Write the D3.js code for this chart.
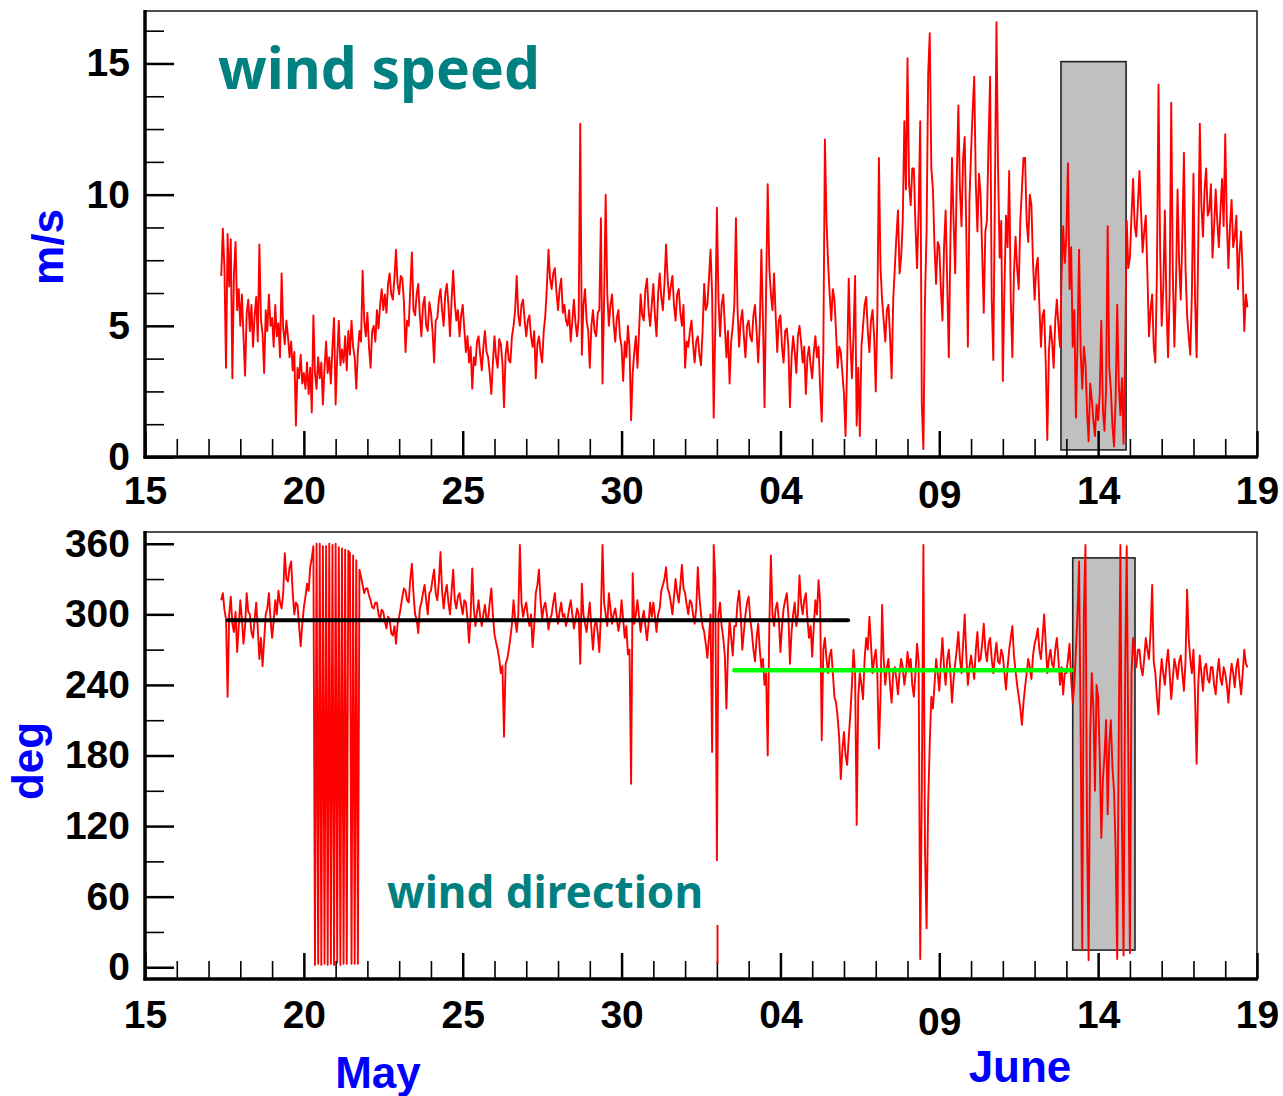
<!DOCTYPE html>
<html><head><meta charset="utf-8">
<script src="https://cdn.jsdelivr.net/npm/d3@7"></script>
<style>body{margin:0;background:#fff}svg{display:block}</style>
</head><body>
<svg id="chart" width="1283" height="1096"></svg>
<script>
// ---------- DATA (x = days after 15 May; 0.05-day samples, one row per day) ----------
const dayTickValues = [0,5,10,15,20,25,30,35];
const dayTickLabels = ["15","20","25","30","04","09","14","19"];
const speedTickValues = [0,5,10,15];
const dirTickValues = [0,60,120,180,240,300,360];
const monthLabels = ["May","June"];
const firstRowDay = 2;
const samplesPerDay = 20;

// wind speed (m/s)
const windSpeedRows = [
  [null,null,null,null,null,null,null,null,6.9,8.7,7.2,3.4,8.5,6.5,8.3,3.0,7.0,8.2,5.6,6.4],
  [5.0,6.2,4.6,3.1,5.5,6.0,4.8,5.8,4.2,5.4,6.1,4.4,8.1,5.2,4.7,3.2,5.6,4.8,6.2,5.0],
  [5.3,4.2,5.8,4.6,5.1,3.8,7.0,4.9,4.3,5.2,4.6,3.8,4.4,3.3,4.0,1.2,3.4,3.0,3.9,2.8],
  [3.2,2.6,3.6,2.4,3.4,1.7,5.4,3.2,2.6,3.8,3.0,3.6,2.0,3.4,4.4,3.2,3.8,2.8,4.2,5.3],
  [2.0,3.8,5.2,3.5,4.1,3.6,4.6,3.3,4.8,3.9,5.2,4.2,3.8,2.6,4.0,4.8,4.4,7.1,5.2,4.6],
  [5.5,4.2,3.4,4.8,5.0,4.4,5.6,4.9,5.8,6.4,5.6,6.2,5.5,6.6,7.0,6.2,6.0,6.8,7.9,6.6],
  [6.2,6.9,6.8,5.9,4.0,5.2,5.0,6.4,7.8,5.6,5.4,6.2,6.6,5.4,4.6,5.8,6.1,5.0,4.8,5.9],
  [5.5,4.8,3.6,5.2,5.3,6.0,6.4,5.6,5.0,6.2,6.6,5.8,4.6,6.0,7.1,5.9,5.2,5.6,4.6,5.4],
  [5.8,4.9,4.0,4.6,3.6,4.2,2.6,3.8,3.5,4.4,4.6,3.9,3.3,4.2,4.8,4.0,3.8,3.2,2.4,3.6],
  [4.6,3.8,3.4,4.5,4.3,3.6,1.9,3.9,4.4,3.7,3.6,4.6,5.0,5.6,6.9,5.4,5.0,5.8,6.0,5.2],
  [4.6,5.2,5.4,4.6,4.2,4.8,3.0,4.3,4.6,4.0,3.6,4.8,5.4,6.5,7.9,6.8,6.4,7.0,7.2,6.3],
  [5.6,6.4,6.8,5.5,5.8,5.2,5.0,5.6,4.4,5.2,6.0,5.1,4.6,5.3,12.7,3.9,5.8,6.4,5.2,4.8],
  [3.4,5.0,5.6,4.8,4.6,5.5,5.6,9.1,2.8,6.0,10.0,6.2,5.0,5.8,6.2,5.1,4.4,5.3,5.6,4.6],
  [4.2,2.9,4.4,3.8,5.0,4.2,1.4,3.2,4.0,4.6,3.4,4.8,6.2,5.4,5.2,6.4,6.8,5.6,5.0,5.8],
  [6.6,5.4,4.6,6.2,7.0,6.1,5.6,6.6,8.1,6.8,6.0,6.5,6.9,5.8,5.2,6.2,6.4,5.5,5.0,5.8],
  [3.4,4.4,4.2,4.8,5.2,4.3,3.6,4.4,4.6,3.9,3.5,4.8,6.6,5.6,5.8,6.8,7.9,6.2,1.5,5.0],
  [9.5,6.0,4.6,5.8,6.2,5.0,3.8,4.8,2.8,4.4,5.0,5.8,9.1,5.6,4.2,5.2,5.6,4.6,3.8,5.0],
  [5.2,4.6,4.4,5.4,5.8,4.8,3.6,5.0,7.9,5.2,1.9,6.4,10.4,7.2,6.2,5.6,7.0,5.4,4.0,5.2],
  [5.4,4.2,3.6,4.8,4.9,4.2,1.9,3.8,4.6,4.0,3.2,4.6,5.0,4.4,3.6,4.2,2.4,3.8,4.2,3.5],
  [3.0,4.0,4.6,3.8,4.2,2.6,1.35,4.0,12.1,9.0,7.4,6.2,5.2,6.4,6.0,4.8,3.4,4.2,4.0,3.2],
  [2.4,0.8,3.6,6.8,4.4,3.0,4.6,6.9,1.2,3.4,0.8,4.2,5.0,5.8,6.1,4.8,4.0,5.2,5.6,4.6],
  [2.5,5.4,11.4,7.2,6.0,5.2,4.4,5.6,5.8,4.6,3.0,6.0,7.2,8.4,9.4,7.0,7.6,9.0,12.8,10.2],
  [15.2,10.4,9.6,11.0,11.0,8.8,7.2,9.4,12.8,2.0,0.3,6.0,8.6,14.6,16.15,11.0,10.2,8.0,6.6,8.2],
  [8.0,6.4,5.2,8.0,9.4,6.6,3.8,8.2,11.4,9.0,7.0,10.6,13.4,10.2,8.8,11.4,12.2,8.6,4.2,9.8],
  [11.6,13.2,14.5,10.4,8.6,10.8,10.0,7.8,5.5,8.6,9.0,12.0,14.5,6.0,3.7,10.0,16.57,11.0,7.6,9.0],
  [2.9,6.4,9.2,8.0,10.9,6.0,3.8,7.0,8.4,7.2,6.4,9.0,10.2,11.4,11.4,9.0,8.2,10.0,9.6,7.4],
  [6.0,7.2,7.6,5.8,4.2,5.4,5.6,3.6,0.65,4.0,5.0,4.4,3.4,5.2,6.0,5.0,4.2,7.0,8.8,7.4],
  [8.4,11.2,6.4,8.0,4.2,5.6,1.5,4.4,7.9,4.0,2.6,4.2,3.6,1.8,0.6,2.8,2.2,1.4,0.8,2.0],
  [1.4,2.4,5.2,1.8,1.0,2.6,8.8,3.4,2.6,1.2,0.4,2.2,5.8,2.8,1.6,3.0,0.5,4.0,9.0,7.2],
  [7.6,9.2,10.6,8.8,8.4,9.6,10.9,9.4,7.8,8.6,9.2,7.0,4.6,5.6,6.2,4.2,3.6,7.0,14.2,8.0],
  [5.0,6.4,9.4,5.8,3.8,6.2,13.5,7.0,4.2,6.6,10.2,7.4,6.0,8.4,11.6,7.2,5.4,4.6,3.9,6.2],
  [10.8,6.0,3.8,8.0,12.7,9.6,8.4,10.2,11.0,9.2,9.4,10.4,7.6,8.8,10.2,9.0,8.0,9.4,10.6,8.8],
  [12.3,9.0,7.2,8.8,9.8,8.0,8.4,9.2,6.4,7.8,8.6,7.0,4.8,6.2,5.7]
];

// wind direction (deg)
const windDirRows = [
  [null,null,null,null,null,null,null,null,312,318,304,296,230,300,315,292,285,302,268,290],
  [312,296,275,290,318,302,300,285,280,296,310,288,262,280,256,278,300,305,318,296],
  [280,294,312,300,320,310,305,318,352,330,328,340,345,318,300,310,308,290,273,292],
  [306,315,326,320,340,348,358,2,360,3,360,2,358,3,358,2,360,3,359,2],
  [360,4,357,2,356,3,355,3,354,352,3,350,3,346,3,338,332,325,318,322],
  [322,316,312,306,305,310,310,300,296,304,302,294,288,298,296,284,282,290,275,292],
  [298,306,315,322,320,312,310,330,343,318,300,296,284,305,310,318,325,312,300,318],
  [320,330,338,318,312,328,353,320,305,318,325,310,300,320,338,312,305,315,318,308],
  [300,312,310,296,276,300,339,305,290,302,312,298,290,300,308,296,296,310,322,300],
  [283,276,270,262,250,256,196,258,262,270,280,292,312,296,285,300,359,310,298,305],
  [310,298,290,300,272,290,318,325,338,312,296,306,310,300,287,296,300,310,318,302],
  [292,302,310,298,300,290,296,305,312,300,288,296,305,300,258,326,300,292,285,298],
  [310,288,270,290,296,284,268,300,359,310,300,290,318,305,292,300,305,296,286,294],
  [312,296,280,290,266,270,156,335,292,300,312,298,285,296,303,290,278,292,310,298],
  [310,298,285,300,305,320,325,330,340,322,318,310,300,315,330,318,310,325,342,322],
  [318,308,300,312,310,300,292,305,340,315,300,290,285,275,263,280,300,183,359,330],
  [91,300,310,290,280,265,220,270,295,280,265,290,290,310,320,300,270,285,300,310],
  [315,296,285,270,260,280,292,270,255,262,240,250,180,290,350,300,290,305,310,295],
  [268,290,305,312,318,300,258,285,300,310,290,300,333,310,300,312,318,296,280,290],
  [264,290,312,300,329,310,193,270,280,262,250,265,270,250,230,225,213,195,160,185],
  [200,180,172,195,215,240,270,250,121,230,250,240,228,262,280,270,298,275,250,262],
  [270,250,186,230,308,262,240,255,262,240,225,250,255,245,232,250,262,255,240,250],
  [268,255,262,240,230,250,275,260,7,150,359,100,33,140,190,230,220,240,262,250],
  [235,260,280,255,240,262,270,250,225,245,258,270,285,262,250,275,300,265,240,255],
  [265,255,245,270,285,260,262,275,292,270,260,275,280,262,250,265,276,260,258,270],
  [265,250,236,255,270,280,290,265,252,240,230,220,206,225,238,250,262,255,245,265],
  [275,280,288,270,262,280,300,275,250,262,270,258,255,270,280,262,240,255,232,250],
  [250,262,275,245,225,240,270,300,345,200,15,300,359,120,6,200,250,220,150,240],
  [230,180,110,160,180,210,130,190,210,170,150,100,7,200,359,120,10,250,358,180],
  [12,250,280,265,255,270,270,255,248,262,280,270,262,285,325,260,250,230,215,245],
  [262,250,240,258,270,250,228,245,262,255,245,260,265,250,235,260,321,280,262,250],
  [270,230,173,240,265,250,235,255,258,245,242,255,255,240,232,250,262,245,240,255],
  [250,240,225,245,258,250,238,255,262,245,232,250,270,258,255]
];
// short detached piece of the direction record
const dirFragment = [[18.02,36],[18.02,3]];

// shaded periods: [startDay, endDay, low, high]
const speedShade = [28.83, 30.88, 0.27, 15.07];
const dirShade = [29.2, 31.16, 14.6, 348];
// mean-direction lines: [startDay, endDay, deg]
const meanDirEarly = [2.61, 22.13, 295];
const meanDirLate = [18.55, 29.16, 252.5];

// ---------- DRAWING ----------
function toPoints(rows){
  const pts=[];
  rows.forEach((row,i)=>row.forEach((v,j)=>{ if(v!==null) pts.push([firstRowDay+i+j/samplesPerDay, v]); }));
  return pts;
}
const speedPts = toPoints(windSpeedRows);
const dirPts = toPoints(windDirRows);

const svg = d3.select("#chart");
const X0=145, X1=1257;
const x = d3.scaleLinear().domain([0,35]).range([X0,X1]);
const yS = d3.scaleLinear().domain([0,17]).range([457,11]);
const yD = d3.scaleLinear().domain([-10,370]).range([979,532]);

const tickFont = "'Liberation Sans', Arial, sans-serif";
const seriesWidth = 1.9;

function panel(y, majors, minors, shade, pts, labelPad, nineShift){
  const [b, t] = y.range();
  const g = svg.append("g");
  g.append("rect")
    .attr("x", x(shade[0])).attr("y", y(shade[3]))
    .attr("width", x(shade[1])-x(shade[0])).attr("height", y(shade[2])-y(shade[3]))
    .attr("fill","#c0c0c0").attr("stroke","#222").attr("stroke-width",1.6);
  g.append("rect").attr("x",X0).attr("y",t).attr("width",X1-X0).attr("height",b-t)
    .attr("fill","none").attr("stroke","#222").attr("stroke-width",1.6);
  g.append("path").datum(pts)
    .attr("d", d3.line().x(d=>x(d[0])).y(d=>y(d[1])))
    .attr("fill","none").attr("stroke","#ff0000").attr("stroke-width",seriesWidth)
    .attr("stroke-linejoin","round");
  const ga = g.append("g").attr("transform",`translate(${X0},0)`)
    .call(d3.axisLeft(y).tickValues(majors).tickSize(-29).tickPadding(15).tickFormat(d3.format("d")));
  ga.select(".domain").remove();
  ga.selectAll("line").attr("stroke","#000").attr("stroke-width",2.5);
  ga.selectAll("text").attr("font-size",39).attr("font-weight","bold").attr("font-family",tickFont).attr("fill","#000");
  const gm = g.append("g").attr("transform",`translate(${X0},0)`)
    .call(d3.axisLeft(y).tickValues(minors).tickSize(-19).tickFormat(""));
  gm.select(".domain").remove();
  gm.selectAll("line").attr("stroke","#000").attr("stroke-width",1.6);
  const gx = g.append("g").attr("transform",`translate(0,${b})`)
    .call(d3.axisBottom(x).tickValues(dayTickValues).tickSize(-26).tickPadding(labelPad)
      .tickFormat((d,i)=>dayTickLabels[i]));
  gx.select(".domain").remove();
  gx.selectAll("line").attr("stroke","#000").attr("stroke-width",2.5);
  gx.selectAll("text").attr("font-size",39).attr("font-weight","bold").attr("font-family",tickFont).attr("fill","#000")
    .attr("transform",(d,i)=> dayTickLabels[i]==="09" ? `translate(0,${nineShift})` : null);
  const minorDays = d3.range(0,36).filter(d=>d%5!==0);
  const gxm = g.append("g").attr("transform",`translate(0,${b})`)
    .call(d3.axisBottom(x).tickValues(minorDays).tickSize(-18).tickFormat(""));
  gxm.select(".domain").remove();
  gxm.selectAll("line").attr("stroke","#000").attr("stroke-width",1.6);
  g.append("line").attr("x1",X0).attr("x2",X0).attr("y1",t-1).attr("y2",b+1.5).attr("stroke","#000").attr("stroke-width",3.5);
  g.append("line").attr("x1",X0-1.5).attr("x2",X1+1).attr("y1",b).attr("y2",b).attr("stroke","#000").attr("stroke-width",3.5);
  return g;
}

// top panel
const speedMinor = d3.range(0,17,1.25).filter(v=>v%5!==0);
const topG = panel(yS, speedTickValues, speedMinor, speedShade, speedPts, 19, 4);
topG.append("text").attr("x",218).attr("y",89)
  .attr("font-family","'Noto Sans', 'Open Sans', sans-serif").attr("font-weight","bold")
  .attr("font-size",57).attr("fill","#008080")
  .attr("textLength",322).attr("lengthAdjust","spacingAndGlyphs").text("wind speed");

// bottom panel
const dirMinor = d3.range(30,370,60);
const botG = panel(yD, dirTickValues, dirMinor, dirShade, dirPts, 21, 7);
botG.append("path").datum(dirFragment)
  .attr("d", d3.line().x(d=>x(d[0])).y(d=>yD(d[1])))
  .attr("fill","none").attr("stroke","#ff0000").attr("stroke-width",seriesWidth);
botG.append("line").attr("x1",x(meanDirEarly[0])).attr("x2",x(meanDirEarly[1]))
  .attr("y1",yD(meanDirEarly[2])).attr("y2",yD(meanDirEarly[2]))
  .attr("stroke","#000").attr("stroke-width",4).attr("stroke-linecap","round");
botG.append("line").attr("x1",x(meanDirLate[0])).attr("x2",x(meanDirLate[1]))
  .attr("y1",yD(meanDirLate[2])).attr("y2",yD(meanDirLate[2]))
  .attr("stroke","#00ff00").attr("stroke-width",4.5).attr("stroke-linecap","round");
botG.append("text").attr("x",387).attr("y",908)
  .attr("font-family","'Noto Sans', 'Open Sans', sans-serif").attr("font-weight","bold")
  .attr("font-size",45).attr("fill","#008080")
  .attr("textLength",316).attr("lengthAdjust","spacingAndGlyphs").text("wind direction");

// axis titles
const blue = "#0000ff";
svg.append("text").attr("transform","translate(63,247) rotate(-90)").attr("text-anchor","middle")
  .attr("font-family",tickFont).attr("font-weight","bold").attr("font-size",44).attr("fill",blue).text("m/s");
svg.append("text").attr("transform","translate(43,761) rotate(-90)").attr("text-anchor","middle")
  .attr("font-family",tickFont).attr("font-weight","bold").attr("font-size",44).attr("fill",blue).text("deg");
svg.append("text").attr("x",378).attr("y",1088).attr("text-anchor","middle")
  .attr("font-family",tickFont).attr("font-weight","bold").attr("font-size",44).attr("fill",blue).text(monthLabels[0]);
svg.append("text").attr("x",1020).attr("y",1082).attr("text-anchor","middle")
  .attr("font-family",tickFont).attr("font-weight","bold").attr("font-size",44).attr("fill",blue).text(monthLabels[1]);
</script>
</body></html>
